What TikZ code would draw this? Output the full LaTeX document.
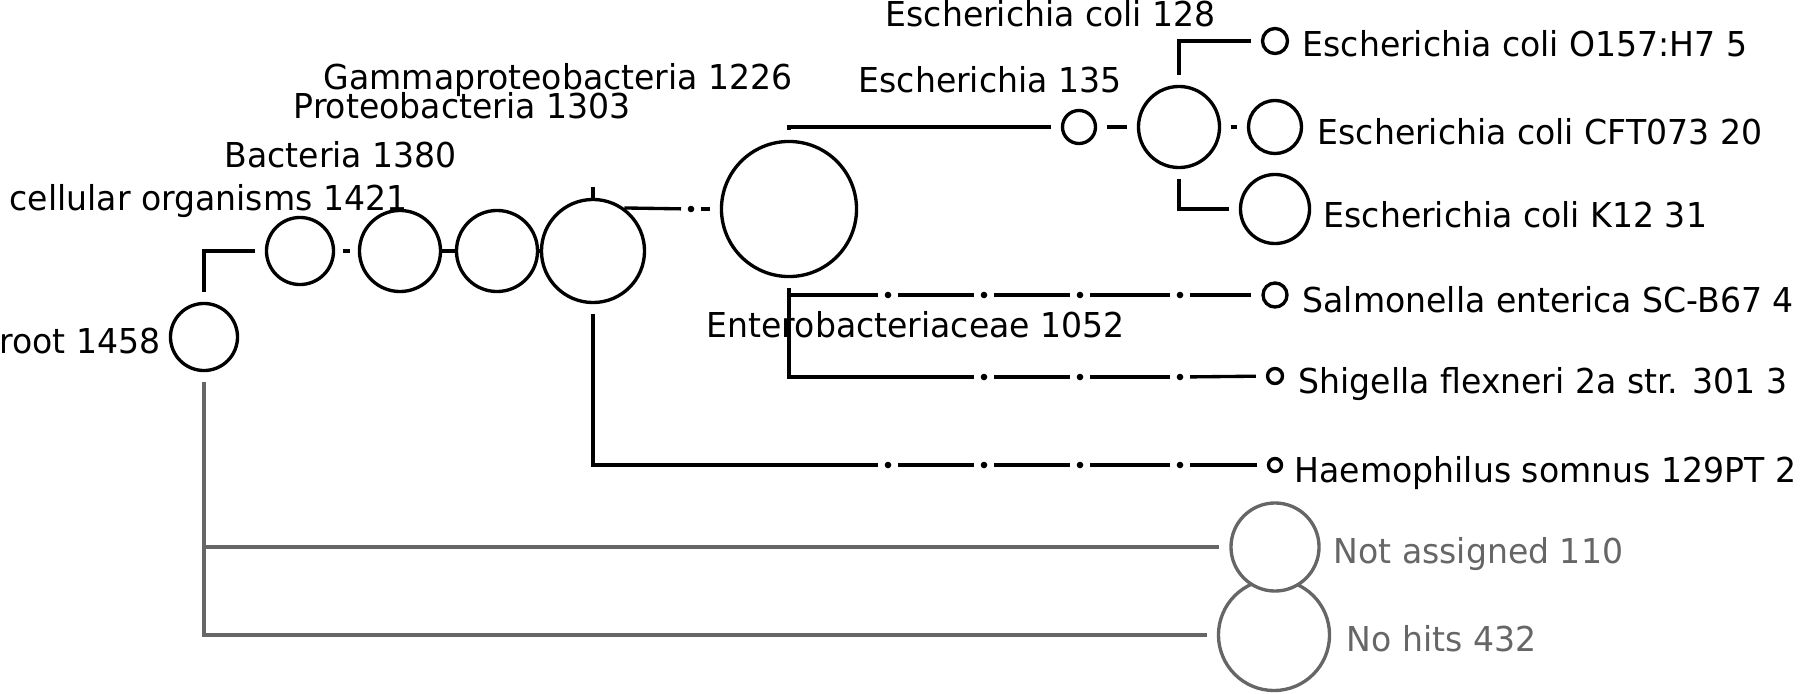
\documentclass[tikz,border=0pt]{standalone}
\usepackage{fontspec}
\setmainfont{DejaVu Sans}[FakeStretch=0.965]
\definecolor{unassigned}{RGB}{102,102,102}

\begin{document}
\begin{tikzpicture}[x=0.01cm, y=-0.01cm, line width=0.95pt,
  taxon/.style={circle, draw, fill=white, inner sep=0pt, minimum size=#1},
  edge/.style={shorten <=0.1cm, shorten >=0.1cm},
  lbl/.style={anchor=base west, inner sep=0pt, font=\fontsize{9.75pt}{11pt}\selectfont}]
\useasboundingbox (0,0) rectangle (1800,694);
%not assigned / no hits
\node[taxon=1.11cm, draw=unassigned] (nohit) at (1274,635) {};
\node[taxon=0.88cm, draw=unassigned] (notas) at (1275,547) {};
%spine
\node[taxon=0.67cm] (root) at (204,337) {};
\node[taxon=0.67cm] (cell) at (300,251) {};
\node[taxon=0.81cm] (bact) at (400,251) {};
\node[taxon=0.81cm] (proteo) at (497,251) {};
\node[taxon=1.03cm] (gamma) at (593,251) {};
\node[taxon=1.35cm] (entero) at (789,209) {};
%Escherichia
\node[taxon=0.33cm] (esch) at (1079,127) {};
\node[taxon=0.81cm] (ecoli) at (1179,127) {};
\node[taxon=0.25cm] (o157) at (1275,41) {};
\node[taxon=0.53cm] (cft) at (1275,127) {};
\node[taxon=0.69cm] (k12) at (1275,209) {};
%other leaves
\node[taxon=0.24cm] (salm) at (1275,295) {};
\node[taxon=0.15cm] (shig) at (1275,376) {};
\node[taxon=0.13cm] (haem) at (1275,465) {};
%ranks without own reads
\coordinate (gtop) at (593,187);
\coordinate (d1) at (691,209);
\coordinate (s1) at (888,295); \coordinate (s2) at (984,295); \coordinate (s3) at (1080,295); \coordinate (s4) at (1180,295);
\coordinate (t2) at (984,377); \coordinate (t3) at (1080,377); \coordinate (t4) at (1180,377);
\coordinate (p1) at (888,465); \coordinate (p2) at (984,465); \coordinate (p3) at (1080,465); \coordinate (p4) at (1180,465);
\foreach \d in {d1,s1,s2,s3,s4,t2,t3,t4,p1,p2,p3,p4} \fill (\d) circle (0.033cm);
%edges
\draw[edge] (root) |- (cell);
\draw[shorten <=0.08cm, shorten >=0.08cm] (cell) -- (bact);
\draw (bact) -- (proteo);
\draw (proteo) -- (gamma);
\draw (gtop) -- (gamma.north);
\draw[shorten >=0.1cm] (gamma.54.6) -- (d1);
\draw[edge] (d1) -- (entero);
\draw[edge] (entero) |- (esch);
\draw[edge] (esch) -- (ecoli);
\draw[edge] (ecoli) |- (o157);
\draw[edge] (ecoli) -- (cft);
\draw[edge] (ecoli) |- (k12);
\draw[edge] (entero) |- (s1); \draw[edge] (s1) -- (s2); \draw[edge] (s2) -- (s3); \draw[edge] (s3) -- (s4); \draw[edge] (s4) -- (salm);
\draw[edge] (entero) |- (t2); \draw[edge] (t2) -- (t3); \draw[edge] (t3) -- (t4); \draw[edge] (t4) -- (shig);
\draw[edge] (gamma) |- (p1); \draw[edge] (p1) -- (p2); \draw[edge] (p2) -- (p3); \draw[edge] (p3) -- (p4); \draw[edge] (p4) -- (haem);
\draw[edge, unassigned] (root) |- (notas);
\draw[edge, unassigned] (root) |- (nohit);
%labels
\node[lbl, anchor=base east] (lroot) at (162,353) {root 1458};
\node[lbl] (lcell) at (8,210) {cellular organisms 1421};
\node[lbl] (lbact) at (223,167) {Bacteria 1380};
\node[lbl] (lproteo) at (292,118) {Proteobacteria 1303};
\node[lbl] (lgamma) at (322,89) {Gammaproteobacteria 1226};
\node[lbl] (lentero) at (705,337) {Enterobacteriaceae 1052};
\node[lbl] (lesch) at (857,92) {Escherichia 135};
\node[lbl] (lecoli) at (884,27) {Escherichia coli 128};
\node[lbl] (lo157) at (1301,57) {Escherichia coli O157:H7 5};
\node[lbl] (lcft) at (1316,144) {Escherichia coli CFT073 20};
\node[lbl] (lk12) at (1322,227) {Escherichia coli K12 31};
\node[lbl] (lsalm) at (1301,312) {Salmonella enterica SC-B67 4};
\node[lbl] (lshig) at (1297,393) {Shigella flexneri 2a str. 301 3};
\node[lbl] (lhaem) at (1293,482) {Haemophilus somnus 129PT 2};
\node[lbl, text=unassigned] (lnotas) at (1332,563) {Not assigned 110};
\node[lbl, text=unassigned] (lnohit) at (1345,651) {No hits 432};
\end{tikzpicture}
\end{document}
